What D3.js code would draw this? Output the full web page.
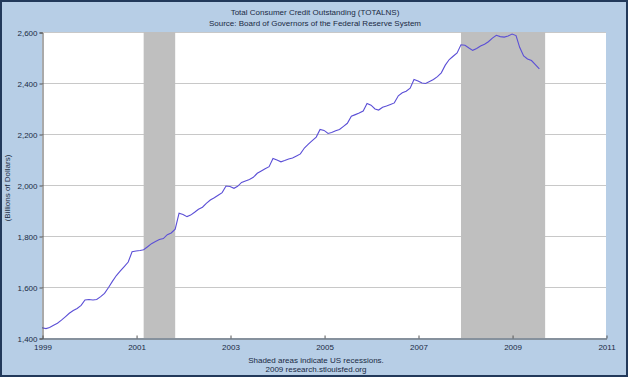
<!DOCTYPE html>
<html><head><meta charset="utf-8">
<script src="https://cdn.jsdelivr.net/npm/d3@7"></script>
<style>html,body{margin:0;padding:0;background:#b7cee6;}svg{display:block;}</style>
</head><body>
<svg id="c" width="628" height="377"></svg>
<script>
const titleLines = ["Total Consumer Credit Outstanding (TOTALNS)", "Source: Board of Governors of the Federal Reserve System"];
const footerLines = ["Shaded areas indicate US recessions.", "2009 research.stlouisfed.org"];
const yLabel = "(Billions of Dollars)";
const startMonth = "1999-01-01";
// Monthly values, Jan 1999 – Aug 2009 (billions of dollars)
const values = [
  1440,1437,1441,1450,1458,1470,1483,1497,1508,1516,1528,1549,
  1551,1549,1551,1562,1575,1598,1622,1645,1663,1680,1698,1738,
  1741,1743,1746,1758,1770,1778,1786,1790,1805,1812,1827,1889,
  1884,1876,1882,1893,1905,1913,1928,1941,1950,1960,1970,1996,
  1994,1987,1995,2010,2016,2022,2030,2046,2055,2064,2072,2104,
  2098,2091,2096,2102,2106,2114,2122,2145,2160,2174,2188,2218,
  2214,2202,2206,2213,2218,2230,2242,2270,2276,2282,2290,2320,
  2313,2298,2294,2305,2310,2316,2322,2350,2362,2368,2380,2414,
  2408,2400,2398,2406,2414,2425,2440,2470,2492,2505,2518,2550,
  2548,2537,2528,2535,2545,2552,2562,2576,2587,2582,2580,2584,
  2592,2586,2540,2506,2494,2488,2472,2455
];
const recessions = [["2001-03-01","2001-11-01"],["2007-12-01","2009-09-15"]];
const yTicks = [1400,1600,1800,2000,2200,2400,2600];
const xTickYears = [1999,2001,2003,2005,2007,2009,2011];

const svg = d3.select("#c");
const W = 628, H = 377;
const parse = d3.timeParse("%Y-%m-%d");
const start = parse(startMonth);
const data = values.map((v,i) => ({date: d3.timeMonth.offset(start, i), value: v}));

const x = d3.scaleTime().domain([new Date(1999,0,1), new Date(2011,0,1)]).range([42, 606]);
const y = d3.scaleLinear().domain([1400, 2600]).range([338, 32]);

const font = "Liberation Sans, Arial, sans-serif";
const txt = "#1a2a44";

// background + border
svg.append("rect").attr("x",0).attr("y",0).attr("width",W).attr("height",H).attr("fill","#b7cee6");
svg.append("rect").attr("x",1).attr("y",1).attr("width",W-2).attr("height",H-2)
  .attr("fill","none").attr("stroke","#22395a").attr("stroke-width",2);

// plot area
svg.append("rect").attr("x",x.range()[0]).attr("y",y(2600)).attr("width",x.range()[1]-x.range()[0])
  .attr("height",y(1400)-y(2600)).attr("fill","#ffffff");

// gridlines
svg.append("g").selectAll("line").data(yTicks.slice(1)).join("line")
  .attr("x1",x.range()[0]).attr("x2",x.range()[1])
  .attr("y1",d=>y(d)+0.5).attr("y2",d=>y(d)+0.5)
  .attr("stroke","#c8c8c8").attr("stroke-width",1);

// recession bands
svg.append("g").selectAll("rect").data(recessions).join("rect")
  .attr("x",d=>x(parse(d[0]))).attr("width",d=>x(parse(d[1]))-x(parse(d[0])))
  .attr("y",y(2600)).attr("height",y(1400)-y(2600)).attr("fill","#bfbfbf");

// line
svg.append("path").datum(data)
  .attr("d", d3.line().x(d=>x(d.date)).y(d=>y(d.value)))
  .attr("fill","none").attr("stroke","#5b4fd6").attr("stroke-width",1.1);

// axes
const yAxis = d3.axisLeft(y).tickValues(yTicks).tickFormat(d3.format(",")).tickSize(3).tickPadding(2);
const gy = svg.append("g").attr("transform","translate(42.5,0.5)").call(yAxis);
gy.select(".domain").attr("stroke","#555");
gy.selectAll(".tick line").attr("stroke","#555");
gy.selectAll("text").attr("font-family",font).attr("font-size",8).attr("fill",txt);

const xAxis = d3.axisBottom(x).tickValues(xTickYears.map(yr=>new Date(yr,0,1)))
  .tickFormat(d3.timeFormat("%Y")).tickSizeInner(-3).tickSizeOuter(0).tickPadding(6);
const gx = svg.append("g").attr("transform","translate(0.5,338.5)").call(xAxis);
gx.select(".domain").attr("stroke","#555");
gx.selectAll(".tick line").attr("stroke","#555");
gx.selectAll("text").attr("font-family",font).attr("font-size",8).attr("fill",txt);

// titles
svg.append("g").selectAll("text").data(titleLines).join("text")
  .attr("x",315).attr("y",(d,i)=>15+i*11).attr("text-anchor","middle")
  .attr("font-family",font).attr("font-size",8).attr("fill",txt).text(d=>d);

svg.append("g").selectAll("text").data(footerLines).join("text")
  .attr("x",316).attr("y",(d,i)=>363+i*9).attr("text-anchor","middle")
  .attr("font-family",font).attr("font-size",8).attr("fill",txt).text(d=>d);

svg.append("text").attr("transform","translate(10,188) rotate(-90)").attr("text-anchor","middle")
  .attr("font-family",font).attr("font-size",8).attr("fill",txt).text(yLabel);
</script>
</body></html>
